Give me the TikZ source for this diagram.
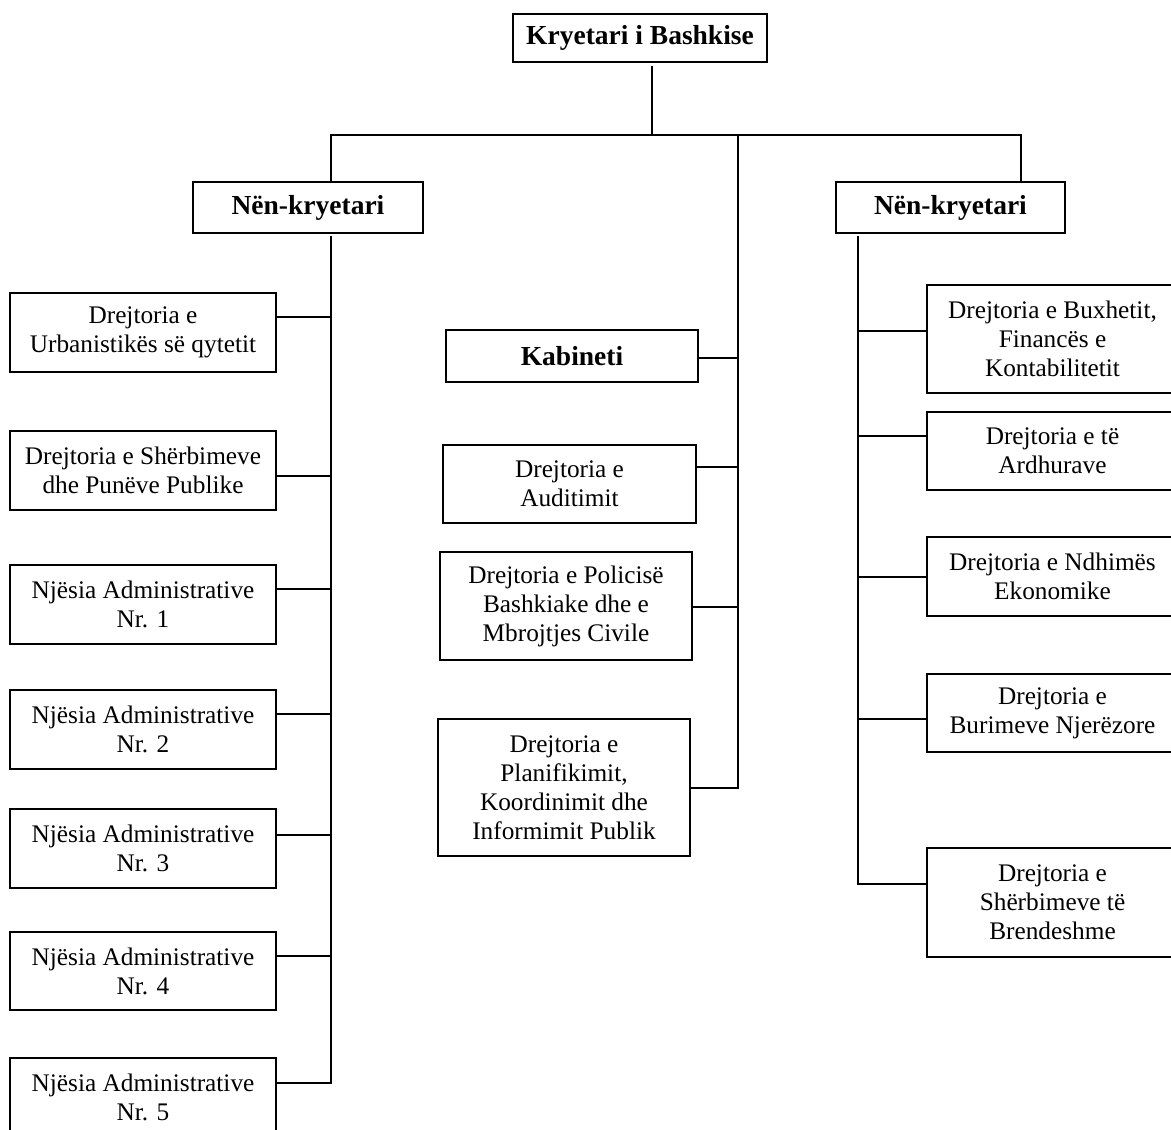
\documentclass[tikz,border=0pt]{standalone}
\usepackage{fontspec}
\setmainfont{Liberation Serif}
\usetikzlibrary{calc}
\newcommand{\regf}{\fontsize{25.3}{29}\selectfont}
\newcommand{\boldf}{\fontsize{27.5}{30}\selectfont\bfseries}
\tikzset{
  orgbox/.style={draw, line width=1.8pt, rectangle, inner sep=0pt, align=center, font=\regf},
  headbox/.style={orgbox, font=\boldf},
  conn/.style={line width=1.8pt, line cap=rect}
}
\begin{document}
\begin{tikzpicture}[x=1pt,y=-1pt]
\useasboundingbox (0,0) rectangle (1171,1130);
\clip (0,0) rectangle (1171,1130);
% top level
\node[headbox, minimum width=254pt, minimum height=48pt] (top) at (640,38) {Kryetari i Bashkise};
\node[headbox, minimum width=230pt, minimum height=51pt] (nkL) at (308,207.5) {Nën-kryetari};
\node[headbox, minimum width=229pt, minimum height=51pt] (nkR) at (950.5,207.5) {Nën-kryetari};
% left column
\tikzset{lbox/.style={orgbox, minimum width=266pt, minimum height=79pt}}
\node[lbox] (L1) at (143,332.5) {Drejtoria e\\Urbanistikës së qytetit};
\node[lbox] (L2) at (143,470.5) {Drejtoria e Shërbimeve\\dhe Punëve Publike};
\node[lbox] (L3) at (143,604.5) {Njësia Administrative\\Nr. 1};
\node[lbox] (L4) at (143,729.5) {Njësia Administrative\\Nr. 2};
\node[lbox] (L5) at (143,848.5) {Njësia Administrative\\Nr. 3};
\node[lbox, minimum height=78pt] (L6) at (143,971) {Njësia Administrative\\Nr. 4};
\node[lbox] (L7) at (143,1097.5) {Njësia Administrative\\Nr. 5};
% middle column
\node[headbox, minimum width=252pt, minimum height=52pt] (M1) at (572,356) {Kabineti};
\node[orgbox, minimum width=253pt, minimum height=78pt] (M2) at (569.5,484) {Drejtoria e\\Auditimit};
\node[orgbox, minimum width=252pt, minimum height=108pt] (M3) at (566,606) {Drejtoria e Policisë\\Bashkiake dhe e\\Mbrojtjes Civile};
\node[orgbox, minimum width=252pt, minimum height=137pt] (M4) at (564,787.5) {Drejtoria e\\Planifikimit,\\Koordinimit dhe\\Informimit Publik};
% right column
\tikzset{rbox/.style={orgbox, minimum width=251pt}}
\node[rbox, minimum height=108pt] (R1) at (1052.5,339) {Drejtoria e Buxhetit,\\Financës e\\Kontabilitetit};
\node[rbox, minimum height=78pt] (R2) at (1052.5,451) {Drejtoria e të\\Ardhurave};
\node[rbox, minimum height=79pt] (R3) at (1052.5,576.5) {Drejtoria e Ndhimës\\Ekonomike};
\node[rbox, minimum height=78pt] (R4) at (1052.5,713) {Drejtoria e\\Burimeve Njerëzore};
\node[rbox, minimum height=109pt] (R5) at (1052.5,902.5) {Drejtoria e\\Shërbimeve të\\Brendeshme};
% junction coordinates
\coordinate (tj) at (652,135);
\coordinate (hl) at (331,135);
\coordinate (hr) at (1021,135);
\coordinate (hm) at (738,135);
\coordinate (ls0) at (331,237);
\coordinate (a1) at (331,317);
\coordinate (a2) at (331,476);
\coordinate (a3) at (331,589);
\coordinate (a4) at (331,714);
\coordinate (a5) at (331,835);
\coordinate (a6) at (331,956);
\coordinate (a7) at (331,1083);
\coordinate (m1) at (738,358);
\coordinate (m2) at (738,467);
\coordinate (m3) at (738,607);
\coordinate (m4) at (738,788);
\coordinate (rs0) at (858,237);
\coordinate (r1) at (858,331);
\coordinate (r2) at (858,436);
\coordinate (r3) at (858,577);
\coordinate (r4) at (858,719);
\coordinate (r5) at (858,884);
% connectors
\draw[conn] ($(tj |- top.south)+(0,4)$) -- (tj);
\draw[conn] (hl) -- (hr);
\draw[conn] (hl) -- (hl |- nkL.north);
\draw[conn] (hr) -- (hr |- nkR.north);
\draw[conn] (hm) -- (m4);
\draw[conn] (ls0) -- (a7);
\draw[conn] (rs0) -- (r5);
\foreach \b/\c in {L1/a1,L2/a2,L3/a3,L4/a4,L5/a5,L6/a6,L7/a7,M1/m1,M2/m2,M3/m3,M4/m4}{
  \draw[conn] (\b.east |- \c) -- (\c);
}
\foreach \b/\c in {R1/r1,R2/r2,R3/r3,R4/r4,R5/r5}{
  \draw[conn] (\c) -- (\b.west |- \c);
}
\end{tikzpicture}
\end{document}
